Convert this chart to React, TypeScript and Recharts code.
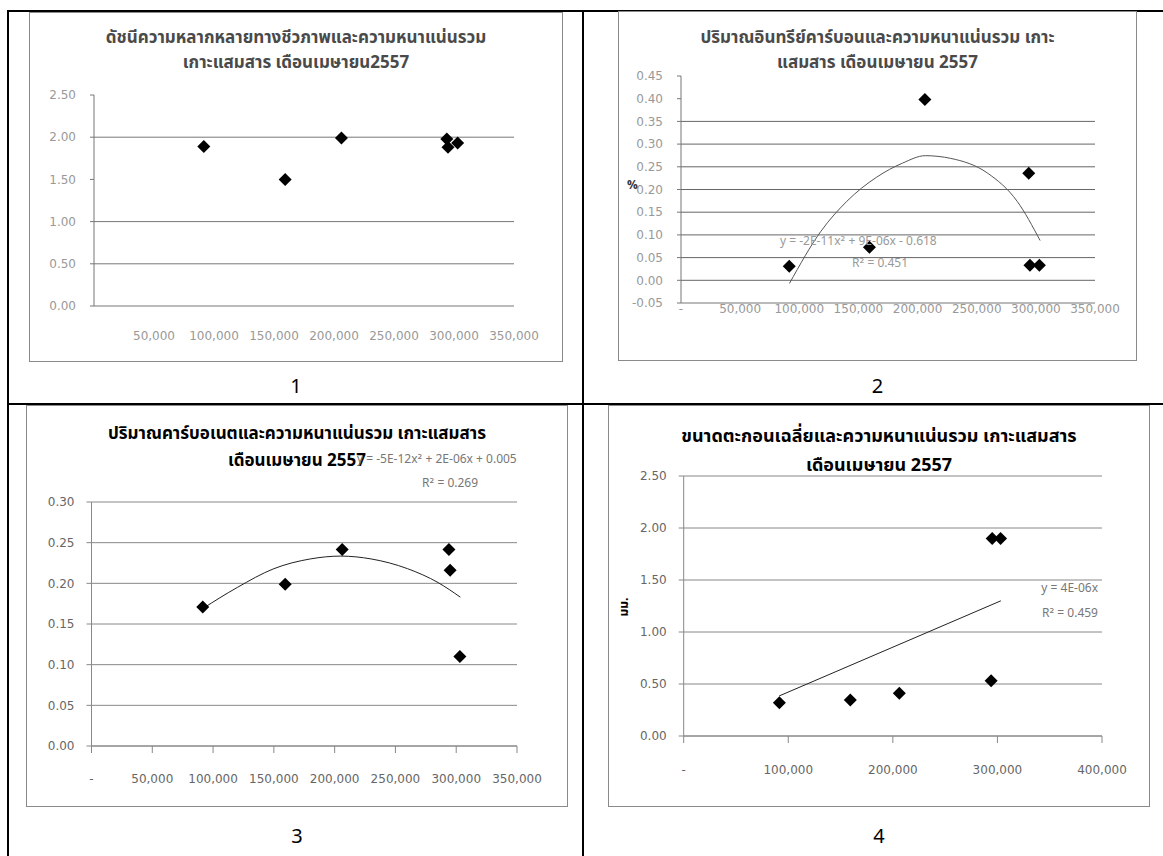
import React from 'react'
import { ScatterChart, Scatter, XAxis, YAxis, CartesianGrid, ReferenceLine } from 'recharts'

// ความหนาแน่นรวม of the six stations (x for every chart)
const density = [91500, 159300, 206200, 294000, 295000, 303000]

// chart 1: diversity index
const diversity = [1.89, 1.5, 1.99, 1.98, 1.88, 1.93]
// chart 2: organic carbon (%)
const organicCarbon = [0.031, 0.073, 0.398, 0.236, 0.033, 0.033]
// chart 3: carbonate
const carbonate = [0.171, 0.199, 0.2415, 0.2415, 0.216, 0.11]
// chart 4: mean grain size (mm)
const grainSize = [0.32, 0.346, 0.41, 0.532, 1.9, 1.9]

// trend lines
const organicTrendX = [91700, 118300, 140200, 165300, 187200, 206600, 227900, 259200, 284200, 303600]
const organicTrendY = [-0.007, 0.108, 0.174, 0.227, 0.258, 0.2745, 0.2686, 0.236, 0.174, 0.0876]
const carbonateTrendX = [91500, 120000, 150000, 180000, 205000, 230000, 260000, 285000, 303400]
const carbonateTrendY = [0.169, 0.195, 0.218, 0.23, 0.2335, 0.23, 0.218, 0.201, 0.183]
const grainTrendX = [91300, 303300]
const grainTrendY = [0.385, 1.3]

// axis ticks
const ticks350 = [0, 50000, 100000, 150000, 200000, 250000, 300000, 350000]
const ticks400 = [0, 100000, 200000, 300000, 400000]
const diversityTicks = [0, 0.5, 1, 1.5, 2, 2.5]
const diversityGrid = [0, 0.5, 1, 2]
const organicTicks = [-0.05, 0, 0.05, 0.1, 0.15, 0.2, 0.25, 0.3, 0.35, 0.4, 0.45]
const organicGrid = [0, 0.05, 0.1, 0.15, 0.2, 0.25, 0.3, 0.35]
const carbonateTicks = [0, 0.05, 0.1, 0.15, 0.2, 0.25, 0.3]
const grainTicks = [0, 0.5, 1, 1.5, 2, 2.5]

const FONT = 'Tahoma, "Noto Sans Thai", "DejaVu Sans", "Noto Sans", sans-serif'

const toPoints = (xs: number[], ys: number[]) => xs.map((x, i) => ({ x, y: ys[i] }))
const fmtX = (v: number) => (v === 0 ? '-' : v.toLocaleString('en-US'))
const fmtY = (v: number) => v.toFixed(2)

const Diamond = (props: any) => {
  const { cx, cy } = props
  if (cx == null || cy == null) return <g />
  return <polygon points={`${cx},${cy - 6.5} ${cx + 6.5},${cy} ${cx},${cy + 6.5} ${cx - 6.5},${cy}`} fill="#000" />
}

const Txt = ({ x, y, w, align = 'left', size = 13, lh = 20, color = '#000', bold = false, children, rotate }: any) => (
  <div
    style={{
      position: 'absolute',
      left: x,
      top: y,
      width: w,
      lineHeight: `${lh}px`,
      height: lh,
      marginTop: -lh / 2,
      textAlign: align,
      fontSize: size,
      color,
      fontWeight: bold ? 'bold' : 'normal',
      fontFamily: FONT,
      whiteSpace: 'nowrap',
      transform: rotate ? `rotate(${rotate}deg)` : undefined,
    }}
  >
    {children}
  </div>
)

const Box = ({ x, y, w, h }: any) => (
  <div style={{ position: 'absolute', left: x, top: y, width: w, height: h, border: '1px solid #8a8a8a', boxSizing: 'border-box' }} />
)

const Line = ({ x, y, w, h }: any) => (
  <div style={{ position: 'absolute', left: x, top: y, width: w, height: h, background: '#000' }} />
)

const tickStyle = { fontSize: 12, fill: '#666', fontFamily: '"DejaVu Sans", sans-serif' }

export default function App() {
  return (
    <div style={{ position: 'absolute', left: 0, top: 0, width: 1163, height: 856, background: '#fff', overflow: 'hidden' }}>
      {/* table lines */}
      <Line x={7} y={10} w={1156} h={2} />
      <Line x={7} y={10} w={2} h={846} />
      <Line x={582} y={10} w={2} h={846} />
      <Line x={7} y={403} w={1156} h={2} />

      {/* chart 1 */}
      <Box x={29} y={12} w={534} h={350} />
      <div style={{ position: 'absolute', left: 29, top: 12 }}>
        <ScatterChart width={534} height={350} margin={{ top: 83, right: 49, bottom: 16, left: 5 }}>
          {diversityGrid.map((v) => (
            <ReferenceLine key={v} y={v} stroke="#777" />
          ))}
          <XAxis type="number" dataKey="x" domain={[0, 350000]} ticks={ticks350.slice(1)} tickFormatter={fmtX}
            height={40} axisLine={false} tickLine={false} tickSize={0} tickMargin={25} tick={{ ...tickStyle, fill: '#999' }} />
          <YAxis type="number" dataKey="y" domain={[0, 2.5]} ticks={diversityTicks} tickFormatter={fmtY} width={60}
            stroke="#777" tickSize={4} tickMargin={14} tick={{ ...tickStyle, fill: '#999' }} />
          <Scatter data={toPoints(density, diversity)} shape={Diamond} isAnimationActive={false} />
        </ScatterChart>
      </div>
      <Txt x={29} y={38} w={534} align="center" size={17} lh={22} bold color="#4a4a4a">ดัชนีความหลากหลายทางชีวภาพและความหนาแน่นรวม</Txt>
      <Txt x={29} y={63} w={534} align="center" size={17} lh={22} bold color="#4a4a4a">เกาะแสมสาร เดือนเมษายน2557</Txt>
      <Txt x={29} y={387} w={534} align="center" size={20} lh={24}>1</Txt>

      {/* chart 2 */}
      <Box x={618} y={11} w={519} h={350} />
      <div style={{ position: 'absolute', left: 618, top: 11 }}>
        <ScatterChart width={519} height={350} margin={{ top: 65, right: 42, bottom: 18, left: 3 }}>
          {organicGrid.map((v) => (
            <ReferenceLine key={v} y={v} stroke="#666" />
          ))}
          <XAxis type="number" dataKey="x" domain={[0, 350000]} ticks={ticks350} tickFormatter={fmtX}
            height={40} stroke="#777" tickLine={false} tickSize={0} tickMargin={1} tick={{ ...tickStyle, fill: '#999' }} />
          <YAxis type="number" dataKey="y" domain={[-0.05, 0.45]} ticks={organicTicks} tickFormatter={fmtY} width={60}
            stroke="#777" tickSize={4} tickMargin={14} tick={{ ...tickStyle, fill: '#999' }} />
          <Scatter data={toPoints(organicTrendX, organicTrendY)} line={{ stroke: '#555', strokeWidth: 1 }}
            lineJointType="monotoneX" shape={() => <g />} isAnimationActive={false} />
          <Scatter data={toPoints(density, organicCarbon)} shape={Diamond} isAnimationActive={false} />
        </ScatterChart>
      </div>
      <Txt x={618} y={38} w={519} align="center" size={17} lh={22} bold color="#4a4a4a">ปริมาณอินทรีย์คาร์บอนและความหนาแน่นรวม เกาะ</Txt>
      <Txt x={618} y={63} w={519} align="center" size={17} lh={22} bold color="#4a4a4a">แสมสาร เดือนเมษายน 2557</Txt>
      <Txt x={627} y={185} size={12} lh={16} bold color="#333">%</Txt>
      <Txt x={780} y={241} size={12} lh={16} color="#999">y = -2E-11x² + 9E-06x - 0.618</Txt>
      <Txt x={852} y={263} size={12} lh={16} color="#999">R² = 0.451</Txt>
      <Txt x={618} y={387} w={519} align="center" size={20} lh={24}>2</Txt>

      {/* chart 3 */}
      <Box x={26} y={405} w={542} h={402} />
      <div style={{ position: 'absolute', left: 26, top: 405 }}>
        <ScatterChart width={542} height={402} margin={{ top: 97, right: 51, bottom: 21, left: 5.5 }}>
          <CartesianGrid vertical={false} stroke="#888" />
          <XAxis type="number" dataKey="x" domain={[0, 350000]} ticks={ticks350} tickFormatter={fmtX}
            height={40} stroke="#888" tickSize={7} tickMargin={21} tick={tickStyle} />
          <YAxis type="number" dataKey="y" domain={[0, 0.3]} ticks={carbonateTicks} tickFormatter={fmtY} width={60}
            stroke="#888" tickSize={5} tickMargin={12} tick={tickStyle} />
          <Scatter data={toPoints(carbonateTrendX, carbonateTrendY)} line={{ stroke: '#222', strokeWidth: 1 }}
            lineJointType="monotoneX" shape={() => <g />} isAnimationActive={false} />
          <Scatter data={toPoints(density, carbonate)} shape={Diamond} isAnimationActive={false} />
        </ScatterChart>
      </div>
      <Txt x={26} y={434} w={542} align="center" size={17} lh={20} bold>ปริมาณคาร์บอเนตและความหนาแน่นรวม เกาะแสมสาร</Txt>
      <Txt x={26} y={461} w={542} align="center" size={17} lh={20} bold>เดือนเมษายน 2557</Txt>
      <Txt x={357} y={459} size={12} lh={16} color="#777">y = -5E-12x² + 2E-06x + 0.005</Txt>
      <Txt x={422} y={483} size={12} lh={16} color="#777">R² = 0.269</Txt>
      <Txt x={26} y={837} w={542} align="center" size={20} lh={24}>3</Txt>

      {/* chart 4 */}
      <Box x={608} y={405} w={542} h={402} />
      <div style={{ position: 'absolute', left: 608, top: 405 }}>
        <ScatterChart width={542} height={402} margin={{ top: 71, right: 48, bottom: 31, left: 15.7 }}>
          <CartesianGrid vertical={false} stroke="#888" />
          <XAxis type="number" dataKey="x" domain={[0, 400000]} ticks={ticks400} tickFormatter={fmtX}
            height={40} stroke="#888" tickSize={7} tickMargin={22} tick={tickStyle} />
          <YAxis type="number" dataKey="y" domain={[0, 2.5]} ticks={grainTicks} tickFormatter={fmtY} width={60}
            stroke="#888" tickSize={5} tickMargin={12} tick={tickStyle} />
          <Scatter data={toPoints(grainTrendX, grainTrendY)} line={{ stroke: '#222', strokeWidth: 1 }}
            shape={() => <g />} isAnimationActive={false} />
          <Scatter data={toPoints(density, grainSize)} shape={Diamond} isAnimationActive={false} />
        </ScatterChart>
      </div>
      <Txt x={608} y={437} w={542} align="center" size={18} lh={22} bold>ขนาดตะกอนเฉลี่ยและความหนาแน่นรวม เกาะแสมสาร</Txt>
      <Txt x={608} y={466} w={542} align="center" size={18} lh={22} bold>เดือนเมษายน 2557</Txt>
      <Txt x={604} y={607} w={40} align="center" size={12} lh={16} bold rotate={-90}>มม.</Txt>
      <Txt x={1000} y={588} w={98} align="right" size={12} lh={16} color="#777">y = 4E-06x</Txt>
      <Txt x={1000} y={613} w={98} align="right" size={12} lh={16} color="#777">R² = 0.459</Txt>
      <Txt x={608} y={837} w={542} align="center" size={20} lh={24}>4</Txt>
    </div>
  )
}
